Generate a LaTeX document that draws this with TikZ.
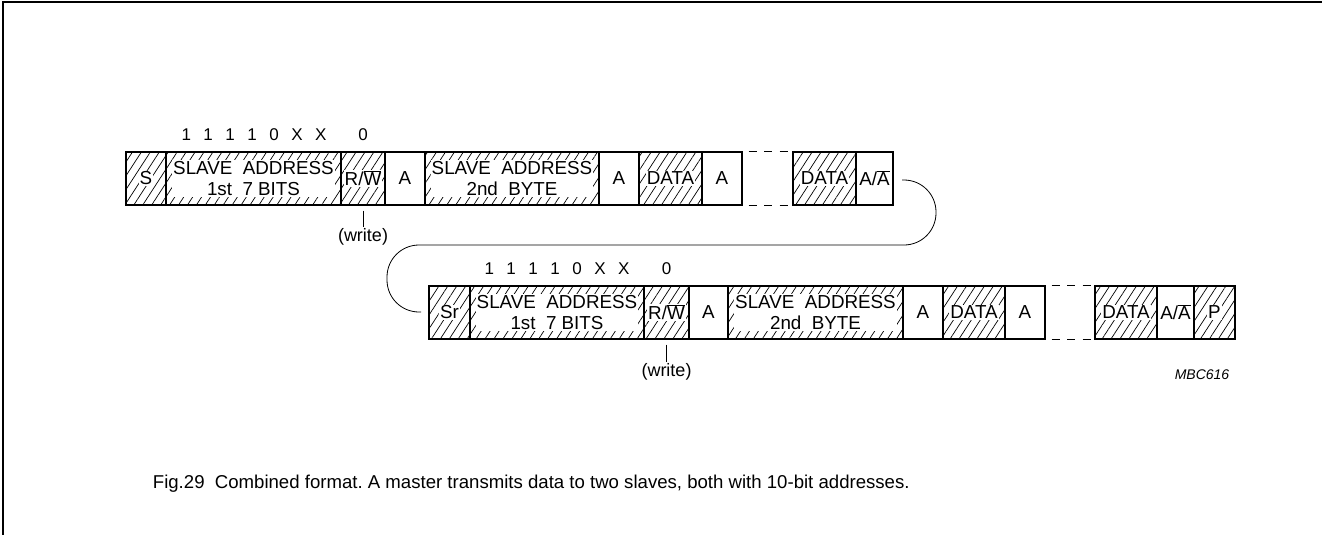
\documentclass[tikz,border=0pt]{standalone}
\usepackage{fontspec}
\setmainfont{Liberation Sans}
\usetikzlibrary{patterns.meta}
\newcommand{\esp}{\hspace{12.5pt}}
\frenchspacing
\begin{document}
\begin{tikzpicture}[
            x=1pt, y=-1pt,
            campo/.style={shape=rectangle, draw=black, line width=1.1pt, minimum height=53pt, inner sep=0pt, font=\fontsize{18.8}{22}\selectfont},
            hachura/.style={campo, pattern={Lines[angle=57, distance=7.5pt, line width=0.7pt]}},
            rotulo/.style={fill=white, inner sep=1.2pt, align=center, font=\fontsize{18.8}{21.5}\selectfont},
            bits/.style={inner sep=1pt, font=\fontsize{17}{20}\selectfont},
            escrita/.style={inner sep=1pt, font=\fontsize{18}{21}\selectfont},
            tracejado/.style={line width=1.1pt, dash pattern=on 8pt off 7.5pt, dash phase=9.5pt},
            ligacao/.style={line width=0.8pt, rounded corners=32pt},
        ]
        \useasboundingbox (0,0) rectangle (1322,535);
        \draw[line width=2pt] (2.5,535) -- (2.5,2.5) -- (1322,2.5);

        \node[hachura, minimum width=40pt] (s) at (146, 178.5) {};
        \node[rotulo] (st) at (s) {S};
        \node[hachura, minimum width=175pt] (sa1) at (253.5, 178.5) {};
        \node[rotulo] (sa1t) at (sa1) {SLAVE\ \ ADDRESS\\1st\ \ 7 BITS};
        \node[hachura, minimum width=44pt] (rw1) at (363, 178.5) {};
        \node[rotulo] (rw1t) at (rw1) {R/$\overline{\mbox{W}}$};
        \node[campo, minimum width=40pt] (a1) at (405, 178.5) {A};
        \node[hachura, minimum width=174pt] (sb1) at (512, 178.5) {};
        \node[rotulo] (sb1t) at (sb1) {SLAVE\ \ ADDRESS\\2nd\ \ BYTE};
        \node[campo, minimum width=40pt] (a2) at (619, 178.5) {A};
        \node[hachura, minimum width=63pt] (d1) at (670.5, 178.5) {};
        \node[rotulo] (d1t) at (d1) {DATA};
        \node[campo, minimum width=40pt] (a3) at (722, 178.5) {A};
        \node[hachura, minimum width=63pt] (d2) at (824.5, 178.5) {};
        \node[rotulo] (d2t) at (d2) {DATA};
        \node[campo, minimum width=37pt] (aa1) at (874.5, 178.5) {A/$\overline{\mbox{A}}$};

        \node[bits] (b1) at (254, 134.5) {1\esp 1\esp 1\esp 1\esp 0\esp X\esp X};
        \node[bits] (z1) at (363, 134.5) {0};
        \node[escrita] (w1) at (363, 237) {(write)};

        \node[hachura, minimum width=41pt] (sr) at (449.5, 312.5) {};
        \node[rotulo] (srt) at (sr) {Sr};
        \node[hachura, minimum width=174pt] (sa2) at (557, 312.5) {};
        \node[rotulo] (sa2t) at (sa2) {SLAVE\ \ ADDRESS\\1st\ \ 7 BITS};
        \node[hachura, minimum width=45pt] (rw2) at (666.5, 312.5) {};
        \node[rotulo] (rw2t) at (rw2) {R/$\overline{\mbox{W}}$};
        \node[campo, minimum width=39pt] (a4) at (708.5, 312.5) {A};
        \node[hachura, minimum width=175pt] (sb2) at (815.5, 312.5) {};
        \node[rotulo] (sb2t) at (sb2) {SLAVE\ \ ADDRESS\\2nd\ \ BYTE};
        \node[campo, minimum width=40pt] (a5) at (923, 312.5) {A};
        \node[hachura, minimum width=62pt] (d3) at (974, 312.5) {};
        \node[rotulo] (d3t) at (d3) {DATA};
        \node[campo, minimum width=40pt] (a6) at (1025, 312.5) {A};
        \node[hachura, minimum width=62pt] (d4) at (1126, 312.5) {};
        \node[rotulo] (d4t) at (d4) {DATA};
        \node[campo, minimum width=37pt] (aa2) at (1175.5, 312.5) {A/$\overline{\mbox{A}}$};
        \node[hachura, minimum width=41pt] (p) at (1214.5, 312.5) {};
        \node[rotulo] (pt) at (p) {P};

        \node[bits] (b2) at (557, 268.5) {1\esp 1\esp 1\esp 1\esp 0\esp X\esp X};
        \node[bits] (z2) at (666.5, 268.5) {0};
        \node[escrita] (w2) at (666.5, 372) {(write)};

        \node[inner sep=0pt, font=\fontsize{14}{16}\selectfont\itshape] (cod) at (1202, 375) {MBC616};
        \node[anchor=base west, inner sep=0pt, font=\fontsize{18.6}{22}\selectfont] (leg) at (152.7, 488) {Fig.29\ \ Combined format. A master transmits data to two slaves, both with 10-bit addresses.};

        \coordinate (c1) at (902, 180);
        \coordinate (c2) at (421, 312);

        \draw[tracejado] (a3.north east) -- (d2.north west);
        \draw[tracejado] (a3.south east) -- (d2.south west);
        \draw[tracejado] (a6.north east) -- (d4.north west);
        \draw[tracejado] (a6.south east) -- (d4.south west);
        \draw[line width=0.8pt] ([yshift=-5pt]rw1.south) -- (w1.north);
        \draw[line width=0.8pt] ([yshift=-5pt]rw2.south) -- (w2.north);
        \draw[ligacao] (c1) -- (936, 180) -- (936, 245) -- (387, 245) -- (387, 312) -- (c2);

    \end{tikzpicture}
\end{document}
